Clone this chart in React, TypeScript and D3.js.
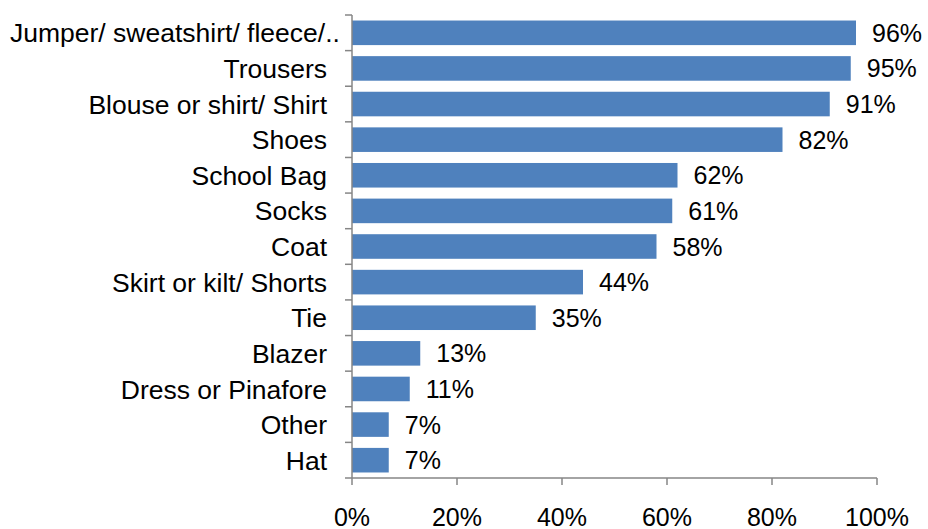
import React, { useEffect, useRef } from "react";
import * as d3 from "d3";

const categories = [
  "Jumper/ sweatshirt/ fleece/..",
  "Trousers",
  "Blouse or shirt/ Shirt",
  "Shoes",
  "School Bag",
  "Socks",
  "Coat",
  "Skirt or kilt/ Shorts",
  "Tie",
  "Blazer",
  "Dress or Pinafore",
  "Other",
  "Hat",
];
const values = [96, 95, 91, 82, 62, 61, 58, 44, 35, 13, 11, 7, 7];
const tickValues = [0, 20, 40, 60, 80, 100];

const W = 928;
const H = 529;
const FONT = "'Liberation Sans', Arial, sans-serif";

export default function App() {
  const ref = useRef<SVGSVGElement | null>(null);

  useEffect(() => {
    const svg = d3.select(ref.current);
    svg.selectAll("*").remove();
    const x = d3.scaleLinear().domain([0, 100]).range([352, 877]);
    const y = d3
      .scaleBand<string>()
      .domain(categories)
      .range([15, 478])
      .paddingInner(0.31)
      .paddingOuter(0.155);

    const band = (478 - 15) / categories.length;

    // bars
    svg
      .selectAll("rect.bar")
      .data(values)
      .join("rect")
      .attr("class", "bar")
      .attr("x", x(0))
      .attr("y", (_, i) => y(categories[i])!)
      .attr("width", (d) => x(d) - x(0))
      .attr("height", y.bandwidth())
      .attr("fill", "#4F81BD");

    // value labels
    svg
      .selectAll("text.val")
      .data(values)
      .join("text")
      .attr("class", "val")
      .attr("x", (d) => x(d) + 16)
      .attr("y", (_, i) => y(categories[i])! + y.bandwidth() / 2)
      .attr("dy", "0.36em")
      .attr("font-family", FONT)
      .attr("font-size", 25)
      .attr("fill", "#000")
      .text((d) => `${d}%`);

    // y axis line and ticks
    const axisColor = "#868686";
    svg
      .append("line")
      .attr("x1", x(0))
      .attr("x2", x(0))
      .attr("y1", 15)
      .attr("y2", 478)
      .attr("stroke", axisColor)
      .attr("stroke-width", 1.5);
    const yTicks = d3.range(categories.length + 1).map((i) => 15 + i * band);
    svg
      .selectAll("line.yt")
      .data(yTicks)
      .join("line")
      .attr("class", "yt")
      .attr("x1", x(0) - 7)
      .attr("x2", x(0))
      .attr("y1", (d) => d)
      .attr("y2", (d) => d)
      .attr("stroke", axisColor)
      .attr("stroke-width", 1.5);

    // category labels
    const labels = svg
      .selectAll("text.cat")
      .data(categories)
      .join("text")
      .attr("class", "cat")
      .attr("x", 327)
      .attr("y", (d) => y(d)! + y.bandwidth() / 2)
      .attr("dy", "0.36em")
      .attr("text-anchor", "end")
      .attr("font-family", FONT)
      .attr("font-size", 26.5)
      .attr("fill", "#000")
      .text((d) => d);
    labels.each(function () {
      const el = this as SVGTextElement;
      const w = el.getComputedTextLength();
      if (327 - w < 10) {
        d3.select(el).attr("text-anchor", "start").attr("x", 10);
      }
    });

    // x axis
    svg
      .append("line")
      .attr("x1", x(0))
      .attr("x2", x(100))
      .attr("y1", 478)
      .attr("y2", 478)
      .attr("stroke", axisColor)
      .attr("stroke-width", 1.5);
    svg
      .selectAll("line.xt")
      .data(tickValues)
      .join("line")
      .attr("class", "xt")
      .attr("x1", (d) => x(d))
      .attr("x2", (d) => x(d))
      .attr("y1", 478)
      .attr("y2", 485)
      .attr("stroke", axisColor)
      .attr("stroke-width", 1.5);
    svg
      .selectAll("text.xl")
      .data(tickValues)
      .join("text")
      .attr("class", "xl")
      .attr("x", (d) => x(d))
      .attr("y", 526)
      .attr("text-anchor", "middle")
      .attr("font-family", FONT)
      .attr("font-size", 25)
      .attr("fill", "#000")
      .text((d) => `${d}%`);
  }, []);

  return (
    <svg
      ref={ref}
      width={W}
      height={H}
      style={{ position: "absolute", left: 0, top: 0, background: "#fff" }}
    />
  );
}
